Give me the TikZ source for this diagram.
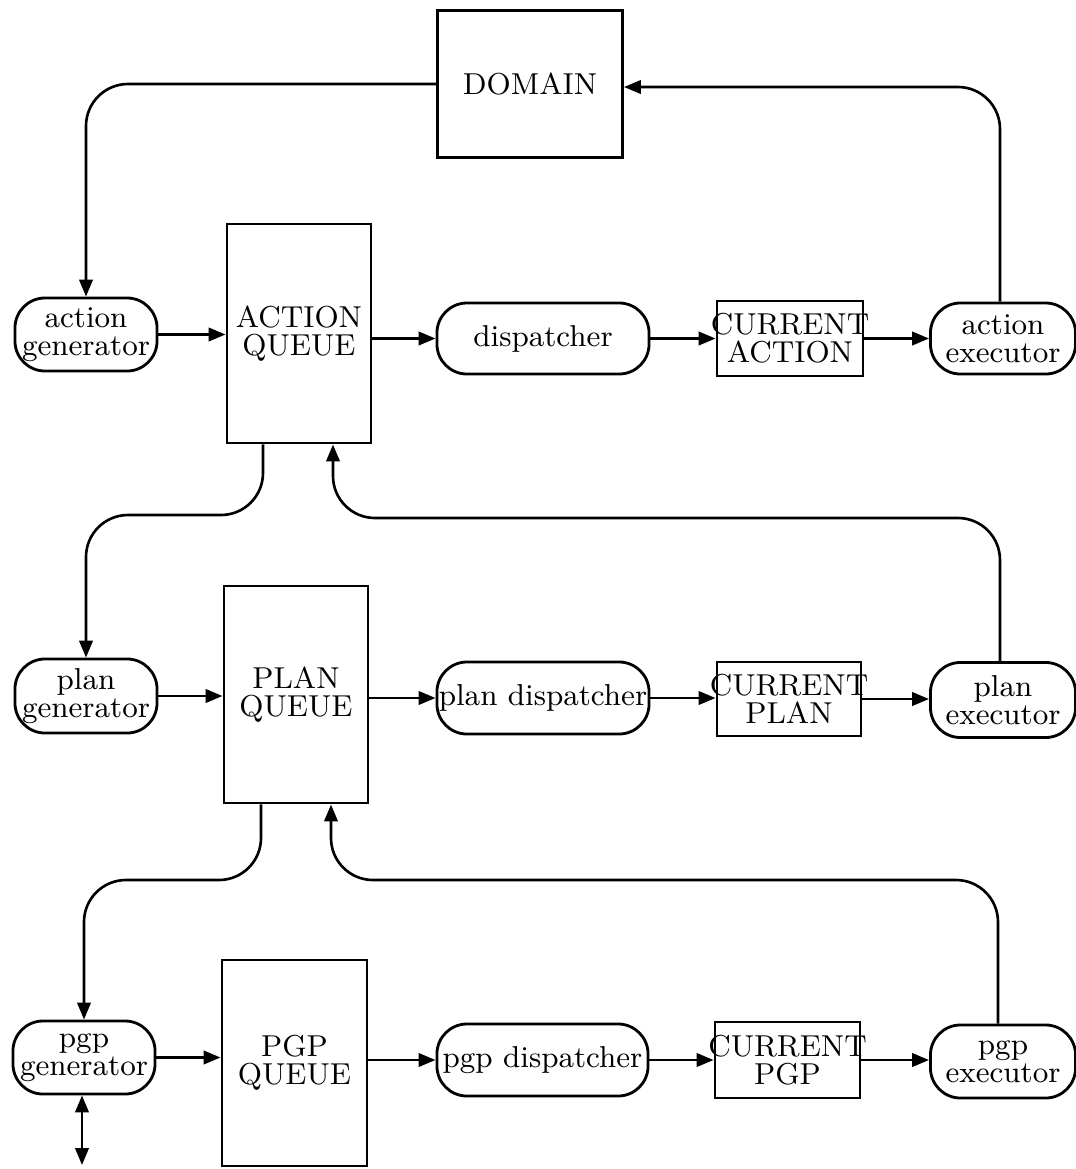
\documentclass[tikz,border=0pt]{standalone}
\usetikzlibrary{arrows.meta}
\newcommand{\cur}{\makebox[1.40cm]{CURRENT}}
\begin{document}
\begin{tikzpicture}[x=0.01cm,y=-0.01cm,
  every node/.style={font=\fontsize{8.6}{8}\selectfont, align=center, inner sep=0pt},
  box/.style={draw, line width=0.8pt, rectangle},
  term/.style={draw, line width=0.8pt, rounded corners=0.3cm},
  tip/.tip={Triangle[length=4.8pt,width=3.8pt]},
  arr/.style={line width=0.75pt, -tip},
  link/.style={line width=0.75pt, rounded corners=0.42cm},
]
\useasboundingbox (0,0) rectangle (1076,1169);

% environment
\node[box, minimum width=1.85cm, minimum height=1.47cm] (domain) at (530,84) {DOMAIN};

% action level
\node[term, minimum width=1.42cm, minimum height=0.73cm] (ag) at (86,334.5) {action\\generator};
\node[box, minimum width=1.44cm, minimum height=2.19cm] (aq) at (299,333.5) {ACTION\\QUEUE};
\node[term, minimum width=2.12cm, minimum height=0.71cm] (disp) at (543,338.5) {dispatcher};
\node[box, minimum width=1.46cm, minimum height=0.75cm] (ca) at (790,338.5) {\cur\\ACTION};
\node[term, minimum width=1.45cm, minimum height=0.71cm] (ae) at (1003,338.5) {action\\executor};

% plan level
\node[term, minimum width=1.42cm, minimum height=0.74cm] (pg) at (86,696) {plan\\generator};
\node[box, minimum width=1.44cm, minimum height=2.17cm] (pq) at (296,694.5) {PLAN\\QUEUE};
\node[term, minimum width=2.12cm, minimum height=0.72cm] (pd) at (543,698) {plan dispatcher};
\node[box, minimum width=1.44cm, minimum height=0.74cm] (cp) at (789,699) {\cur\\PLAN};
\node[term, minimum width=1.45cm, minimum height=0.75cm] (pe) at (1003,700) {plan\\executor};

% pgp level
\node[term, minimum width=1.42cm, minimum height=0.73cm] (gg) at (84,1057.5) {pgp\\generator};
\node[box, minimum width=1.45cm, minimum height=2.06cm] (gq) at (294.5,1063) {PGP\\QUEUE};
\node[term, minimum width=2.11cm, minimum height=0.72cm] (gd) at (542.5,1060) {pgp dispatcher};
\node[box, minimum width=1.45cm, minimum height=0.76cm] (cg) at (787.5,1060) {\cur\\PGP};
\node[term, minimum width=1.45cm, minimum height=0.73cm] (ge) at (1003,1061.5) {pgp\\executor};

% bend points of the feedback loops
\coordinate (d1) at (263,515);
\coordinate (u1) at (333,518);
\coordinate (d2) at (261,880);
\coordinate (u2) at (331,880);
\coordinate (ext) at (82,1165);

% domain loop
\draw[arr, link] (domain.west) -| (ag.north);
\draw[arr, link] ([xshift=-0.03cm]ae.north) |- ([yshift=-0.03cm]domain.east);

% horizontal flows
\draw[arr] (ag.east) -- (ag.east -| aq.west);
\draw[arr] (aq.east |- disp.west) -- (disp.west);
\draw[arr] (disp.east) -- (disp.east -| ca.west);
\draw[arr] (ca.east) -- (ca.east -| ae.west);

\draw[arr] (pg.east) -- (pg.east -| pq.west);
\draw[arr] (pq.east |- pd.west) -- (pd.west);
\draw[arr] (pd.east) -- (pd.east -| cp.west);
\draw[arr] (cp.east) -- (cp.east -| pe.west);

\draw[arr] (gg.east) -- (gg.east -| gq.west);
\draw[arr] (gq.east |- gd.west) -- (gd.west);
\draw[arr] (gd.east) -- (gd.east -| cg.west);
\draw[arr] (cg.east) -- (cg.east -| ge.west);

% between levels
\draw[arr, link] (aq.south -| d1) -- (d1) -| (pg.north);
\draw[arr, link] ([xshift=-0.03cm]pe.north) |- (u1) -- (aq.south -| u1);
\draw[arr, link] (pq.south -| d2) -- (d2) -| (gg.north);
\draw[arr, link] ([xshift=-0.05cm]ge.north) |- (u2) -- (pq.south -| u2);

% outside link of the pgp generator
\draw[line width=0.75pt, tip-tip] (gg.south -| ext) -- (ext);
\end{tikzpicture}
\end{document}
